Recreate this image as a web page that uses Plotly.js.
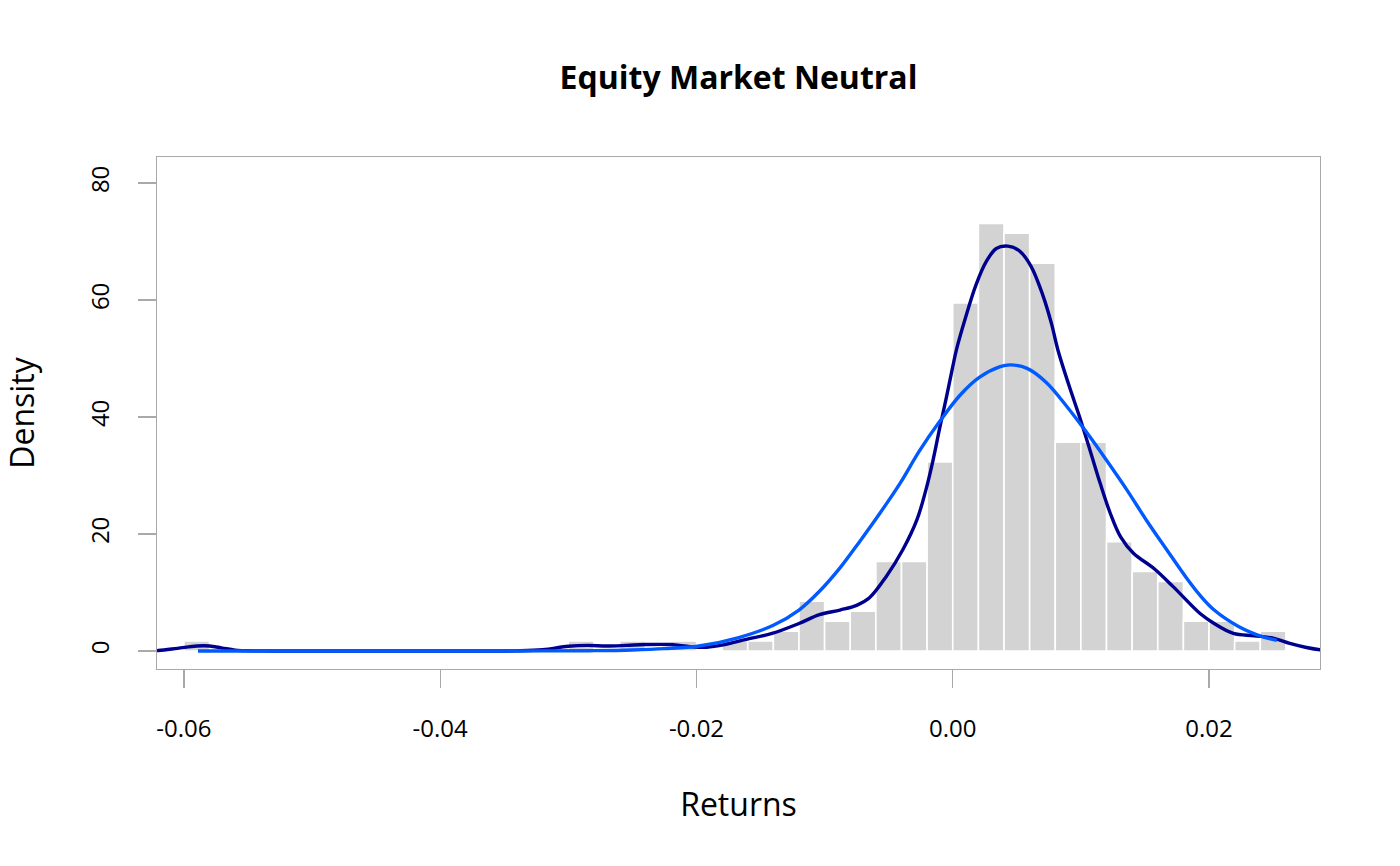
<!DOCTYPE html>
<html>
<head>
<meta charset="utf-8">
<script src="https://cdn.plot.ly/plotly-3.0.1.min.js"></script>
<style>html,body{margin:0;padding:0;background:#fff;}#chart{width:1400px;height:866px;}</style>
</head>
<body>
<div id="chart"></div>
<script>
// Histogram bins (left edges, width 0.002) and densities
const binWidth = 0.002;
const binLeft = [-0.060, -0.030, -0.026, -0.022, -0.018, -0.016, -0.014, -0.012, -0.010, -0.008,
  -0.006, -0.004, -0.002, 0.000, 0.002, 0.004, 0.006, 0.008, 0.010, 0.012, 0.014, 0.016,
  0.018, 0.020, 0.022, 0.024];
const binDensity = [1.7, 1.7, 1.7, 1.7, 1.7, 1.7, 3.4, 8.5, 5.1, 6.8,
  15.3, 15.3, 32.3, 59.5, 73.1, 71.4, 66.3, 35.7, 35.7, 18.7, 13.6, 11.9,
  5.1, 5.1, 1.7, 3.4];

// Kernel density estimate
const kdeX = [-0.0635, -0.0620, -0.0605, -0.0590, -0.0580, -0.0570, -0.0560, -0.0545, -0.0500, -0.0400,
  -0.0340, -0.0320, -0.0300, -0.0285, -0.0270, -0.0255, -0.0240, -0.0220, -0.0205, -0.0192,
  -0.0178, -0.0161, -0.0141, -0.0120, -0.0104, -0.0088, -0.0075, -0.0065, -0.0052, -0.0039,
  -0.0028, -0.0021, -0.00154, -0.0010, -0.0005, 0.0000, 0.0003, 0.0010, 0.0018, 0.0026,
  0.0034, 0.0043, 0.0052, 0.0061, 0.0070, 0.0077, 0.0082, 0.0091, 0.0099, 0.0107,
  0.0115, 0.0123, 0.0131, 0.0141, 0.0157, 0.0172, 0.0193, 0.0204, 0.0219, 0.0235,
  0.0250, 0.0263, 0.0276, 0.0287, 0.0300];
const kdeY = [0.02, 0.08, 0.45, 0.85, 0.85, 0.5, 0.15, 0.02, 0.0, 0.0,
  0.02, 0.2, 0.8, 0.95, 0.85, 0.95, 1.1, 1.1, 0.75, 0.65,
  1.1, 2.0, 3.0, 4.7, 6.2, 7.0, 7.8, 9.1, 12.7, 17.3,
  22.4, 27.5, 32.6, 38.3, 43.3, 48.6, 51.6, 57.0, 62.5, 66.5,
  68.8, 69.2, 68.4, 65.8, 61.0, 56.0, 51.5, 45.2, 40.0, 34.4,
  28.7, 23.5, 19.5, 16.7, 14.1, 11.0, 6.4, 4.7, 3.0, 2.6,
  2.2, 1.3, 0.6, 0.2, 0.05];

// Fitted normal density
const normX = [-0.0589, -0.0500, -0.0400, -0.0320, -0.0280, -0.0250, -0.0225, -0.0198, -0.0167, -0.0140,
  -0.0120, -0.0104, -0.0088, -0.0073, -0.0057, -0.0041, -0.0026, -0.0010, 0.0006, 0.0021,
  0.0037, 0.0045, 0.0058, 0.0073, 0.0089, 0.0104, 0.0120, 0.0136, 0.0151, 0.0167,
  0.0183, 0.0193, 0.0204, 0.0223, 0.0241, 0.0253];
const normY = [0.0, 0.0, 0.0, 0.01, 0.06, 0.18, 0.4, 0.85, 2.3, 4.4,
  7.0, 10.2, 14.2, 18.6, 23.5, 28.7, 34.2, 39.3, 43.8, 46.8,
  48.6, 48.9, 48.3, 45.9, 41.8, 37.5, 32.6, 27.5, 22.4, 17.3,
  12.3, 9.5, 7.0, 4.2, 2.5, 1.8];

const xTicks = [-0.06, -0.04, -0.02, 0.00, 0.02];
const xTickText = ['-0.06', '-0.04', '-0.02', '0.00', '0.02'];
const yTicks = [0, 20, 40, 60, 80];

const grey = '#a9a9a9';
const font = 'Open Sans, Noto Sans, sans-serif';

const traces = [
  {
    type: 'bar',
    x: binLeft.map(v => v + binWidth / 2),
    y: binDensity,
    width: binWidth,
    marker: {color: '#d3d3d3', line: {color: '#ffffff', width: 1.6}},
    hoverinfo: 'skip'
  },
  {
    type: 'scatter', mode: 'lines',
    x: kdeX, y: kdeY,
    line: {color: '#00008f', width: 3.4, shape: 'spline', smoothing: 1}
  },
  {
    type: 'scatter', mode: 'lines',
    x: normX, y: normY,
    line: {color: '#005aff', width: 3.4, shape: 'spline', smoothing: 1}
  }
];

const layout = {
  width: 1400, height: 866,
  paper_bgcolor: '#ffffff', plot_bgcolor: '#ffffff',
  showlegend: false,
  font: {family: font, color: '#000000'},
  margin: {l: 157, r: 80, t: 157, b: 197, pad: 0},
  bargap: 0,
  title: {
    text: '<b>Equity Market Neutral</b>',
    font: {family: font, size: 32, color: '#000000'},
    x: 0.5, xref: 'paper', xanchor: 'center',
    y: 1 - 78 / 866, yref: 'container', yanchor: 'middle'
  },
  xaxis: {
    range: [-0.0621, 0.02866],
    tickvals: xTicks, ticktext: xTickText,
    ticks: 'outside', ticklen: 18, tickwidth: 1.3, tickcolor: grey,
    showline: true, linecolor: grey, linewidth: 1.3, mirror: true,
    showgrid: false, zeroline: false,
    tickfont: {family: font, size: 24, color: '#000000'},
    ticklabelstandoff: 20,
    title: {text: 'Returns', font: {family: font, size: 32, color: '#000000'}, standoff: 50}
  },
  yaxis: {
    range: [-3.08, 84.44],
    tickvals: yTicks,
    tickangle: -90,
    ticks: 'outside', ticklen: 18, tickwidth: 1.3, tickcolor: grey,
    showline: true, linecolor: grey, linewidth: 1.3, mirror: true,
    showgrid: false, zeroline: false,
    tickfont: {family: font, size: 24, color: '#000000'},
    ticklabelstandoff: 19,
    title: {text: 'Density', font: {family: font, size: 32, color: '#000000'}, standoff: 40}
  }
};

Plotly.newPlot('chart', traces, layout, {displayModeBar: false, staticPlot: true});
</script>
</body>
</html>
